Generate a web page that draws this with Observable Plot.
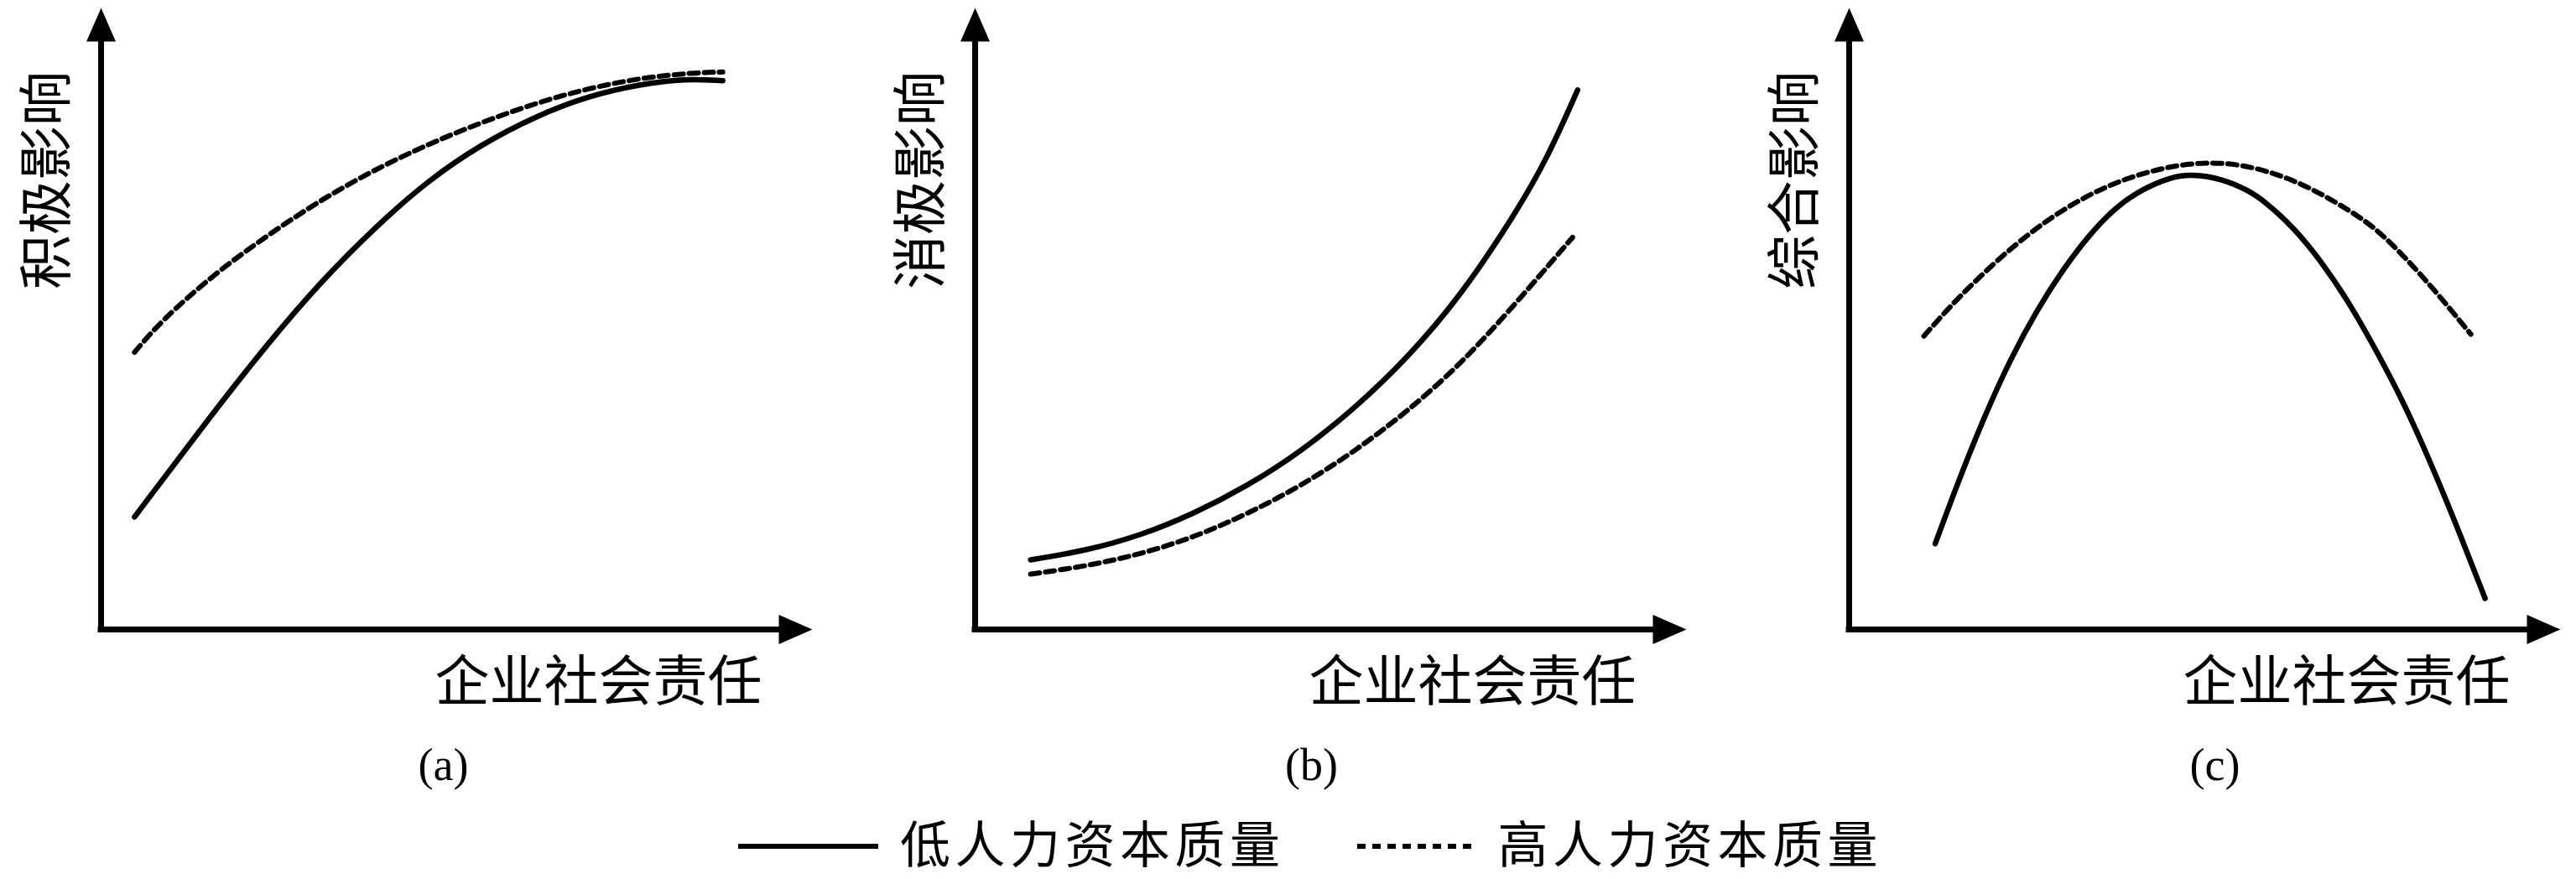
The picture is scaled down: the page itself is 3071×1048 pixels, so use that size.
<!DOCTYPE html>
<html>
<head>
<meta charset="utf-8">
<script src="https://cdn.jsdelivr.net/npm/d3@7"></script>
<script src="https://cdn.jsdelivr.net/npm/@observablehq/plot@0.6"></script>
<style>
  html, body { margin: 0; padding: 0; background: #ffffff; }
  #root { position: relative; width: 3071px; height: 1048px; overflow: hidden; background: #ffffff; }
  .panel { position: absolute; top: 0; width: 980px; height: 960px; }
  .panel svg { max-width: none !important; }
  #legend { position: absolute; left: 880px; top: 963px; height: 80px; display: flex; align-items: center;
            font-family: "Noto Sans CJK SC", sans-serif; font-size: 60px; letter-spacing: 5.5px; line-height: 1;
            color: #000; white-space: nowrap; }
</style>
</head>
<body>
<div id="root"></div>
<script>
// ---------------- data ----------------
const xLabel = "企业社会责任";
const yLabels = ["积极影响", "消极影响", "综合影响"];
const captions = ["(a)", "(b)", "(c)"];
const seriesNames = ["低人力资本质量", "高人力资本质量"];

// panel (a): positive impact
const aLowX  = [4.7, 15.9, 23.5, 31.0, 38.5, 46.0, 53.5, 61.1, 68.6, 76.1, 82.1, 87.4];
const aLowY  = [18.1, 35.1, 46.1, 56.1, 64.7, 72.3, 78.1, 82.6, 85.9, 87.8, 88.6, 88.3];
const aHighX = [4.7, 8.4, 15.9, 23.5, 31.0, 38.5, 46.0, 53.5, 61.1, 68.6, 76.1, 83.6, 87.4];
const aHighY = [44.6, 49.6, 57.2, 63.5, 69.2, 74.0, 78.1, 81.6, 84.7, 87.1, 88.8, 89.6, 89.7];

// panel (b): negative impact
const bLowX  = [7.8, 15.7, 23.2, 30.7, 38.3, 45.8, 53.3, 60.8, 68.3, 75.9, 80.4, 84.7];
const bLowY  = [11.2, 12.7, 15.1, 18.6, 23.1, 28.6, 35.5, 43.7, 53.7, 66.8, 75.7, 86.8];
const bHighX = [7.8, 15.7, 23.2, 30.7, 38.3, 45.8, 53.3, 60.8, 68.3, 75.9, 84.0];
const bHighY = [8.9, 10.2, 12.1, 14.8, 18.6, 23.1, 28.6, 35.1, 42.7, 52.3, 63.1];

// panel (c): overall impact
const cLowX  = [12.1, 15.2, 18.9, 22.7, 26.4, 30.1, 33.8, 37.6, 41.3, 45.0, 48.0, 52.5, 56.2, 58.5, 62.4, 66.4, 70.3, 74.2, 78.2, 82.1, 86.0, 89.4];
const cLowY  = [13.8, 23.4, 34.0, 43.6, 51.4, 58.0, 63.6, 68.1, 70.9, 72.7, 73.3, 72.5, 70.6, 68.8, 64.8, 59.2, 52.6, 44.7, 36.0, 25.9, 15.0, 5.0];
const cHighX = [10.5, 15.2, 22.7, 30.1, 37.6, 45.0, 51.0, 56.9, 63.6, 70.3, 74.2, 78.2, 82.1, 87.4];
const cHighY = [47.2, 53.3, 61.5, 67.8, 72.2, 74.6, 75.3, 74.5, 71.9, 67.5, 64.4, 59.8, 54.9, 47.5];

// ---------------- helpers ----------------
const toRows = (xs, ys) => xs.map((x, i) => ({x, y: ys[i]}));

const arrowUp = {
  draw(ctx, size) {
    const r = Math.sqrt(size / Math.PI);
    ctx.moveTo(0, -1.6 * r); ctx.lineTo(1.4 * r, 1.6 * r); ctx.lineTo(-1.4 * r, 1.6 * r); ctx.closePath();
  }
};
const arrowRight = {
  draw(ctx, size) {
    const r = Math.sqrt(size / Math.PI);
    ctx.moveTo(1.6 * r, 0); ctx.lineTo(-1.6 * r, 1.4 * r); ctx.lineTo(-1.6 * r, -1.4 * r); ctx.closePath();
  }
};

const panels = [
  {low: toRows(aLowX, aLowY), high: toRows(aHighX, aHighY), yLabel: yLabels[0], caption: captions[0], capDx: 408},
  {low: toRows(bLowX, bLowY), high: toRows(bHighX, bHighY), yLabel: yLabels[1], caption: captions[1], capDx: 401},
  {low: toRows(cLowX, cLowY), high: toRows(cHighX, cHighY), yLabel: yLabels[2], caption: captions[2], capDx: 436}
];

const CJK = "Noto Sans CJK SC";
const root = document.getElementById("root");

panels.forEach((p, i) => {
  const chart = Plot.plot({
    width: 980,
    height: 960,
    marginLeft: 120,
    marginRight: 12,
    marginTop: 9,
    marginBottom: 210,
    x: {domain: [0, 100], axis: null},
    y: {domain: [0, 100], axis: null},
    style: {background: "transparent", overflow: "visible"},
    marks: [
      Plot.ruleX([0], {stroke: "black", strokeWidth: 7, insetTop: 20}),
      Plot.ruleY([0], {stroke: "black", strokeWidth: 7, strokeLinecap: "square", insetRight: 20}),
      Plot.dot([0], {frameAnchor: "top-left", symbol: arrowUp, r: 12.5, fill: "black", stroke: "none", dy: 20}),
      Plot.dot([0], {frameAnchor: "bottom-right", symbol: arrowRight, r: 12.5, fill: "black", stroke: "none", dx: -20}),
      Plot.line(p.high, {x: "x", y: "y", curve: "basis", stroke: "black", strokeWidth: 6, strokeDasharray: "11,7"}),
      Plot.line(p.low, {x: "x", y: "y", curve: "basis", stroke: "black", strokeWidth: 6.5, strokeLinecap: "round"}),
      Plot.text([xLabel], {text: d => d, frameAnchor: "bottom-right", textAnchor: "end", lineAnchor: "middle",
                           dx: -60, dy: 64, fontFamily: CJK, fontSize: 65, fill: "black"}),
      Plot.text([p.yLabel], {text: d => d, frameAnchor: "left", textAnchor: "middle", lineAnchor: "middle", rotate: -90,
                             dx: -63, dy: -165, fontFamily: CJK, fontSize: 65, fill: "black"}),
      Plot.text([p.caption], {text: d => d, frameAnchor: "bottom-left", textAnchor: "middle", lineAnchor: "middle",
                              dx: p.capDx, dy: 162, fontFamily: "Liberation Serif", fontSize: 54, fill: "black"})
    ]
  });
  const div = document.createElement("div");
  div.className = "panel";
  div.style.left = (i * 1042) + "px";
  div.appendChild(chart);
  root.appendChild(div);
});

// ---------------- legend ----------------
const legend = document.createElement("div");
legend.id = "legend";
const NS = "http://www.w3.org/2000/svg";
function swatch(w, dash, gapAfter) {
  const s = document.createElementNS(NS, "svg");
  s.setAttribute("width", w); s.setAttribute("height", 20);
  s.style.marginRight = gapAfter + "px";
  s.style.marginTop = "12px";
  const l = document.createElementNS(NS, "line");
  l.setAttribute("x1", 0); l.setAttribute("x2", w); l.setAttribute("y1", 10); l.setAttribute("y2", 10);
  l.setAttribute("stroke", "black"); l.setAttribute("stroke-width", 6);
  if (dash) l.setAttribute("stroke-dasharray", dash);
  s.appendChild(l);
  return s;
}
function label(t, gapAfter) {
  const sp = document.createElement("span");
  sp.textContent = t; sp.style.marginRight = gapAfter + "px";
  return sp;
}
legend.appendChild(swatch(167, null, 26));
legend.appendChild(label(seriesNames[0], 86));
legend.appendChild(swatch(140, "10,8", 28));
legend.appendChild(label(seriesNames[1], 0));
root.appendChild(legend);
</script>
</body>
</html>
